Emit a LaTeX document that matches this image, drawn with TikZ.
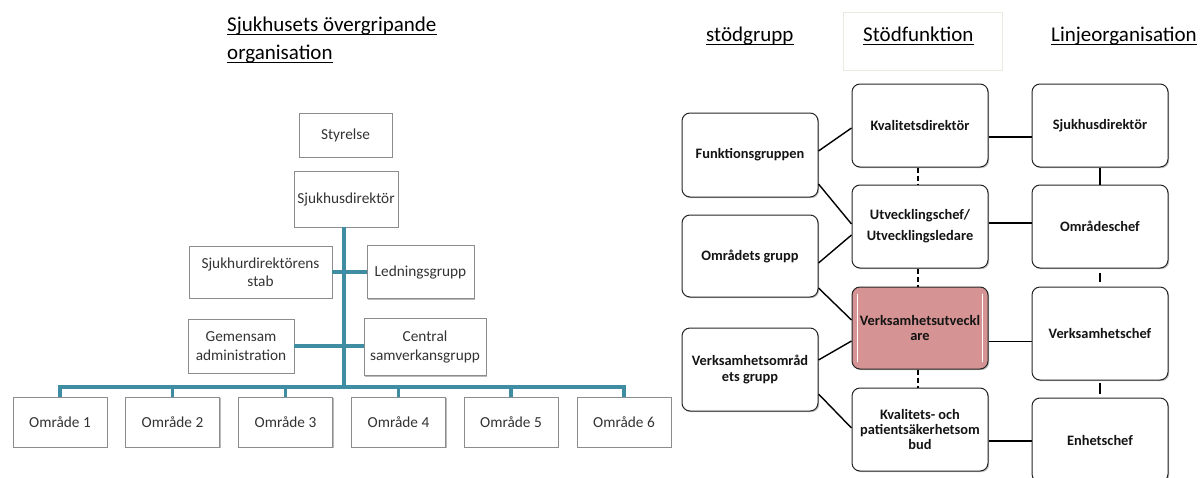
\documentclass[tikz,border=0pt]{standalone}
\usepackage{fontspec}
\setmainfont{Carlito}
\usetikzlibrary{shadows}

\definecolor{busblue}{RGB}{62,141,163}
\definecolor{rosefill}{RGB}{214,147,147}
\definecolor{framegrey}{RGB}{236,233,224}

\tikzset{
  orgbox/.style={draw=black!45, fill=white, line width=0.9pt, align=center, text=black!80,
    inner sep=2pt, font=\fontsize{15.3}{18.5}\selectfont,
    drop shadow={shadow xshift=1.4pt, shadow yshift=-1.4pt, fill=black!45, opacity=.6}},
  rolebox/.style={draw=black!85, fill=white, rounded corners=8pt, line width=1pt, align=center,
    minimum width=136pt, minimum height=83pt, inner sep=2pt, text=black!92,
    font=\fontsize{14.4}{15}\selectfont\bfseries,
    drop shadow={shadow xshift=1.2pt, shadow yshift=-1.2pt, fill=black!50, opacity=.5}},
  bus/.style={busblue, line width=3.2pt},
  tie/.style={line width=1.4pt},
  dashtie/.style={line width=1.4pt, dash pattern=on 5pt off 3pt},
  head/.style={inner sep=0pt, anchor=base west, font=\fontsize{21}{25}\selectfont},
}

\begin{document}
\begin{tikzpicture}[x=1pt, y=-1pt]
\useasboundingbox (0,0) rectangle (1203,477);

% left: overall organisation
\node[head] (titleA) at (227,31) {Sjukhusets övergripande};
\node[head] (titleB) at (227,59) {organisation};

\node[orgbox, minimum width=93pt, minimum height=44pt] (styrelse) at (345.5,135) {Styrelse};
\node[orgbox, minimum width=104pt, minimum height=56pt] (sjdir) at (346,199) {Sjukhusdirektör};
\node[orgbox, minimum width=143pt, minimum height=52pt] (stab) at (260.5,272) {Sjukhurdirektörens\\stab};
\node[orgbox, minimum width=107pt, minimum height=53pt] (ledn) at (420.5,272) {Ledningsgrupp};
\node[orgbox, minimum width=106pt, minimum height=54pt] (gemadm) at (241,346) {Gemensam\\administration};
\node[orgbox, minimum width=122pt, minimum height=57pt] (central) at (425,347) {Central\\samverkansgrupp};
\foreach \i/\x in {1/60,2/172.5,3/285.5,4/398.5,5/511,6/624}
  \node[orgbox, minimum width=94pt, minimum height=50pt] (omr\i) at (\x,422) {Område \i};
\coordinate (hub) at (344,387);

\draw[bus] (sjdir.south -| hub) -- (hub);
\draw[bus] (stab.east) -- (ledn.west);
\draw[bus] (gemadm.east) -- (gemadm.east -| central.west);
\draw[bus] (omr1.north) -- (omr1.north |- hub) -| (omr6.north);
\foreach \i in {2,...,5}
  \draw[bus] (omr\i.north) -- (omr\i.north |- hub);

% right: support function and line organisation
\node[draw=framegrey, line width=1pt, minimum width=159pt, minimum height=58pt] (stodram) at (922.5,41) {};
\node[head] (hgrupp) at (706,41) {stödgrupp};
\node[head] (hfunk) at (863,41) {Stödfunktion};
\node[head] (hlinje) at (1051,41) {Linjeorganisation};
\foreach \n in {titleA,titleB,hgrupp,hfunk,hlinje}
  \draw[line width=0.9pt] ([yshift=-3pt]\n.base west) -- ([yshift=-3pt]\n.base east);

\node[rolebox, minimum height=84pt] (fgrupp) at (750,155) {Funktionsgruppen};
\node[rolebox, minimum height=82pt] (ogrupp) at (750,256) {Områdets grupp};
\node[rolebox] (vogrupp) at (750,369.5) {Verksamhetsområd\\[1pt]ets grupp};

\node[rolebox] (kvdir) at (920,125.5) {Kvalitetsdirektör};
\node[rolebox] (utvchef) at (920,226.5) {Utvecklingschef/\\[6pt]Utvecklingsledare};
\node[rolebox, fill=rosefill, minimum height=82pt] (verksutv) at (920,328) {Verksamhetsutveckl\\are};
\node[rolebox] (kvpat) at (920,429.5) {Kvalitets- och\\patientsäkerhetsom\\bud};
\draw[white, line width=1.6pt, line cap=round] ([xshift=6pt,yshift=-8pt]verksutv.north west) -- ([xshift=6pt,yshift=8pt]verksutv.south west);
\draw[white, line width=1.6pt, line cap=round] ([xshift=-6pt,yshift=-8pt]verksutv.north east) -- ([xshift=-6pt,yshift=8pt]verksutv.south east);

\node[rolebox] (sjdir2) at (1100,125.5) {Sjukhusdirektör};
\node[rolebox] (omrchef) at (1100,226.5) {Områdeschef};
\node[rolebox, minimum height=93pt] (verkschef) at (1100,333.5) {Verksamhetschef};
\node[rolebox, minimum height=84pt] (enhchef) at (1100,440) {Enhetschef};

\draw[tie] ([yshift=4pt]fgrupp.east) -- ([yshift=-2.5pt]kvdir.west);
\draw[tie] ([yshift=-29pt]fgrupp.east) -- ([yshift=2.5pt]utvchef.west);
\draw[tie] ([yshift=-7pt]ogrupp.east) -- ([yshift=-8.5pt]utvchef.west);
\draw[tie] ([yshift=-32pt]ogrupp.east) -- ([yshift=8pt]verksutv.west);
\draw[tie] ([yshift=9.5pt]vogrupp.east) -- ([yshift=-13pt]verksutv.west);
\draw[tie] ([yshift=-24.5pt]vogrupp.east) -- ([yshift=1.5pt]kvpat.west);

\draw[tie] ([yshift=-11.5pt]kvdir.east) -- ([yshift=-11.5pt]sjdir2.west);
\draw[tie] ([yshift=3.5pt]utvchef.east) -- ([yshift=3.5pt]omrchef.west);
\draw[tie] ([yshift=-13.5pt]verksutv.east) -- ([yshift=-8pt]verkschef.west);
\draw[tie] ([yshift=-11.5pt]kvpat.east) -- ([yshift=-1pt]enhchef.west);

\foreach \a/\b in {kvdir/utvchef,utvchef/verksutv,verksutv/kvpat}
  \draw[dashtie] ([xshift=-2pt]\a.south) -- ([xshift=-2pt]\b.north);
\draw[tie] (sjdir2) -- (omrchef);
\draw[tie, shorten <=4pt, shorten >=5pt] (omrchef.south) -- (verkschef.north);
\draw[tie, shorten <=2pt, shorten >=4pt] (verkschef.south) -- (enhchef.north);
\end{tikzpicture}
\end{document}
